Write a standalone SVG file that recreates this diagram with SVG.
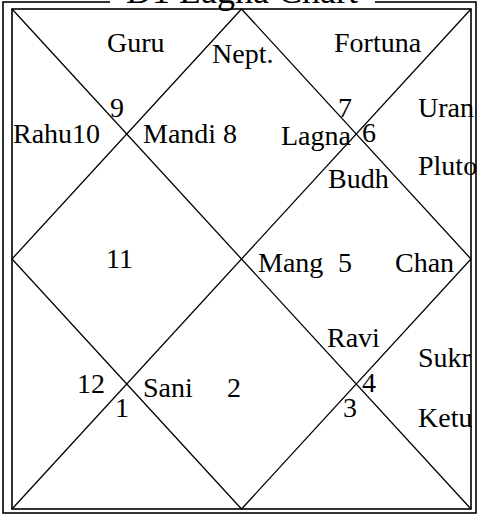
<svg xmlns="http://www.w3.org/2000/svg" width="479" height="514" viewBox="0 0 479 514">
<style>
text{font-family:"Liberation Serif","Times New Roman",serif;font-size:28px;fill:#000}
.ln{stroke:#000;stroke-width:1.3;fill:none}
.bd{stroke:#000;stroke-width:1.6;fill:none}
</style>
<rect x="0" y="0" width="479" height="514" fill="#fff"/>
<g id="frame">
<rect class="bd" x="3" y="2" width="473" height="511"/>
<rect x="110" y="0" width="265" height="6" fill="#fff"/>
<text x="242" y="3" text-anchor="middle" style="font-size:36px">D1 Lagna Chart</text>
<rect class="bd" x="12" y="9" width="459" height="500"/>
</g>
<g id="connectors">
<line class="ln" x1="12" y1="9" x2="471" y2="509"/>
<line class="ln" x1="471" y1="9" x2="12" y2="509"/>
<polygon class="ln" points="241.5,9 471,259 241.5,509 12,259"/>
</g>
<g id="h9"><text x="107" y="52">Guru</text><text x="110" y="117">9</text></g>
<g id="h8"><text x="212" y="63">Nept.</text><text x="143" y="143">Mandi 8</text></g>
<g id="h7"><text x="334" y="52">Fortuna</text><text x="338" y="117">7</text></g>
<g id="h10"><text x="13" y="143">Rahu10</text></g>
<g id="h1"><text x="281" y="145">Lagna</text><text x="328" y="188">Budh</text></g>
<g id="h6"><text x="362" y="142">6</text><text x="418" y="117">Uran</text><text x="418" y="175">Pluto</text></g>
<g id="h11"><text x="106" y="268">11</text></g>
<g id="h5"><text x="258" y="272">Mang</text><text x="338" y="272">5</text></g>
<g id="h4x"><text x="395" y="272">Chan</text></g>
<g id="h3"><text x="327" y="347">Ravi</text><text x="362" y="392">4</text><text x="343" y="417">3</text></g>
<g id="h4"><text x="418" y="367">Sukr</text><text x="418" y="427">Ketu</text></g>
<g id="h12"><text x="77" y="393">12</text><text x="115" y="417">1</text></g>
<g id="h2"><text x="143" y="397">Sani</text><text x="227" y="397">2</text></g>
</svg>
